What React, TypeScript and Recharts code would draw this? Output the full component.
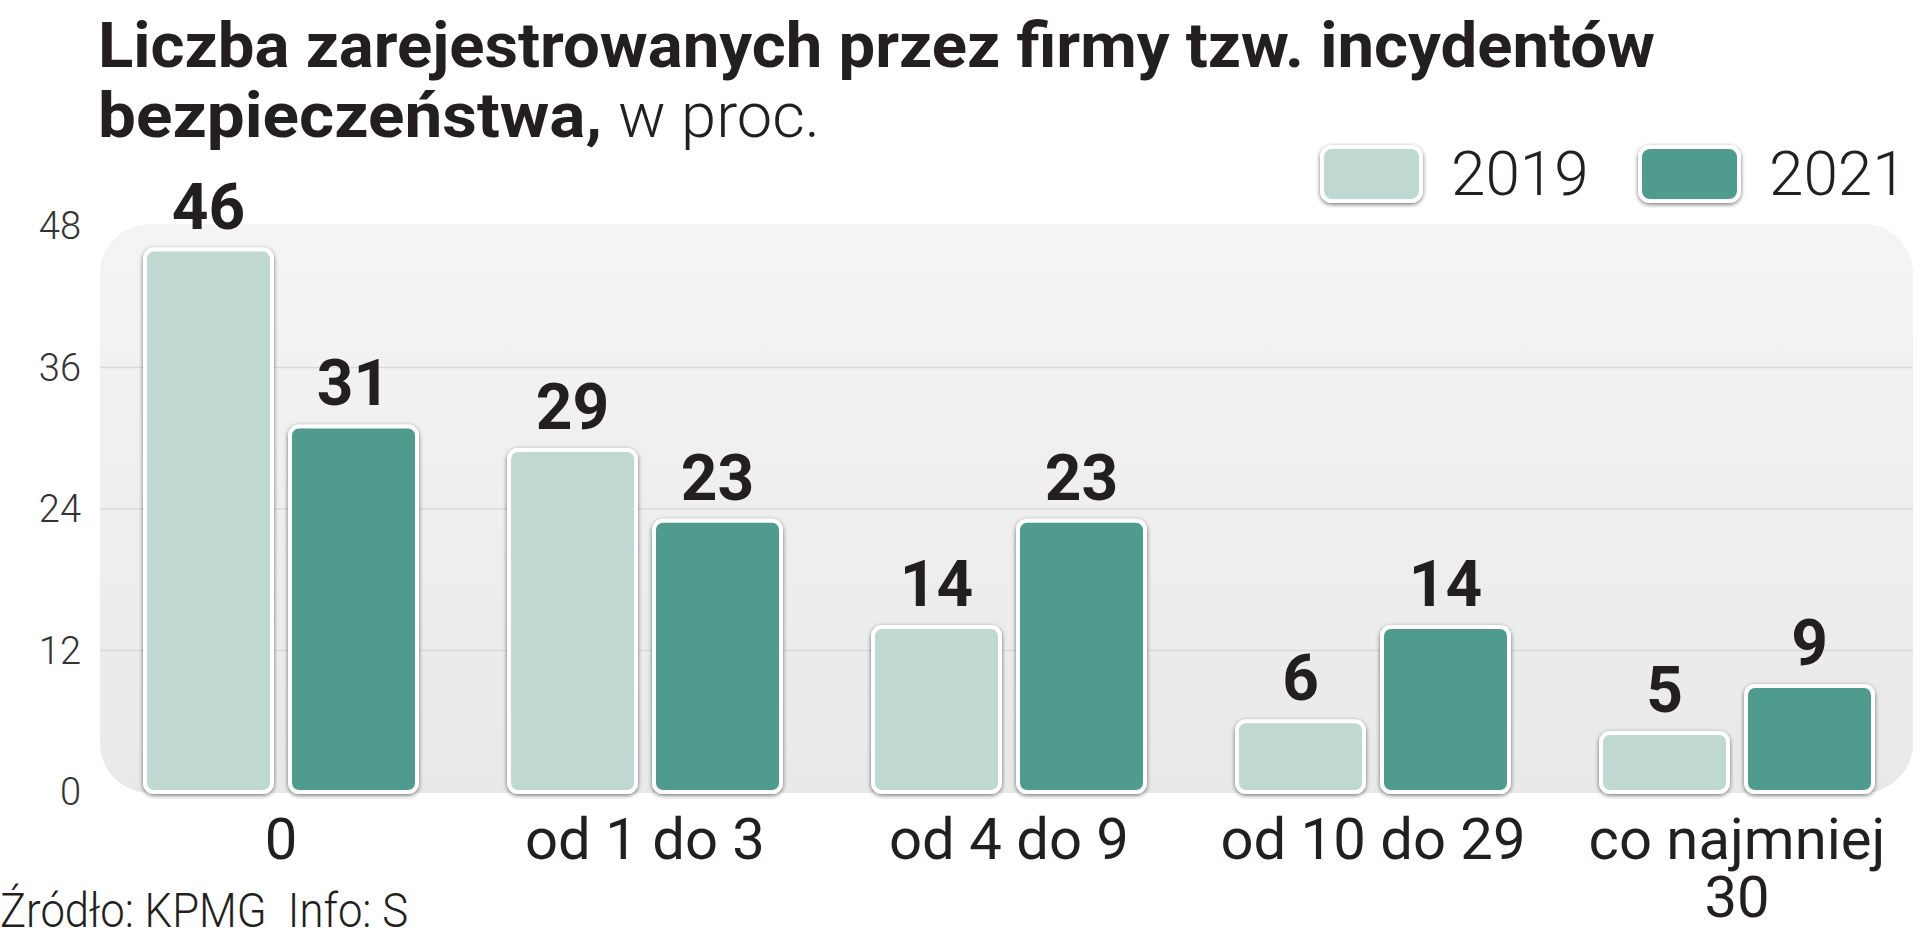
import React from 'react';
import { BarChart, Bar, XAxis, YAxis, CartesianGrid, LabelList } from 'recharts';

// categories (second line used for the last label)
const categoryLines: string[][] = [['0'], ['od 1 do 3'], ['od 4 do 9'], ['od 10 do 29'], ['co najmniej', '30']];
const categories = categoryLines.map((l) => l.join(' '));
const values2019 = [46, 29, 14, 6, 5];
const values2021 = [31, 23, 23, 14, 9];
const seriesNames = ['2019', '2021'];
const seriesColors = ['#bfd8d2', '#4f9b8e'];
const yTicks = [0, 12, 24, 36, 48];
const gridValues = [12, 24, 36];

const W = 1920;
const H = 941;
const PLOT_LEFT = 99;
const PLOT_RIGHT = 1919;
const PLOT_TOP = 226;
const PLOT_BOTTOM = 792;
const Y_AXIS_W = 80;
const X_AXIS_H = 100;

const INK = '#231f20';

const data = categories.map((name, i) => ({
    name,
    v2019: values2019[i],
    v2021: values2021[i],
}));

const BarShape = (props: any) => {
    const { x, y, width, height, fill } = props;
    if (!height || height <= 0) return null;
    return (
        <rect
            x={x}
            y={y}
            width={width}
            height={height}
            rx={9}
            ry={9}
            fill={fill}
            stroke="#fff"
            strokeWidth={4}
            filter="url(#barShadow)"
        />
    );
};

const XTick = (props: any) => {
    const { x, y, payload } = props;
    const lines = categoryLines[payload.index] || [payload.value];
    return (
        <text x={x} y={y} textAnchor="middle" fontFamily="Roboto" fontSize={58} fill={INK}>
            {lines.map((l: string, i: number) => (
                <tspan key={i} x={x} dy={i === 0 ? 67 : 58}>{l}</tspan>
            ))}
        </text>
    );
};

const App = () => {
    return (
        <div style={{ position: 'absolute', left: 0, top: 0, width: W, height: H, background: '#fff' }}>
            {/* background panel + shared filters */}
            <svg width={W} height={H} style={{ position: 'absolute', left: 0, top: 0 }}>
                <defs>
                    <linearGradient id="panelGrad" x1="0" y1="0" x2="0" y2="1">
                        <stop offset="0%" stopColor="#f4f4f4" />
                        <stop offset="100%" stopColor="#e9e9e9" />
                    </linearGradient>
                    <clipPath id="panelClip">
                        <rect x={PLOT_LEFT + 1} y={PLOT_TOP - 2} width={PLOT_RIGHT - PLOT_LEFT - 7} height={PLOT_BOTTOM - PLOT_TOP + 3} rx={50} ry={50} />
                    </clipPath>
                    <filter id="barShadow" x="-20%" y="-20%" width="140%" height="140%">
                        <feDropShadow dx="0" dy="1.5" stdDeviation="2.2" floodColor="#000" floodOpacity="0.55" />
                    </filter>
                </defs>
                <rect
                    x={PLOT_LEFT + 1}
                    y={PLOT_TOP - 2}
                    width={PLOT_RIGHT - PLOT_LEFT - 7}
                    height={PLOT_BOTTOM - PLOT_TOP + 3}
                    rx={50}
                    ry={50}
                    fill="url(#panelGrad)"
                />
            </svg>

            <div style={{ position: 'absolute', left: 0, top: 0 }}>
                <BarChart
                    width={W}
                    height={H}
                    data={data}
                    margin={{
                        top: PLOT_TOP,
                        right: W - PLOT_RIGHT,
                        left: PLOT_LEFT - Y_AXIS_W,
                        bottom: H - PLOT_BOTTOM - X_AXIS_H,
                    }}
                    barCategoryGap={46}
                    barGap={18}
                >
                    <CartesianGrid
                        vertical={false}
                        stroke="#dadada"
                        strokeWidth={1.5}
                        horizontalValues={gridValues}
                        clipPath="url(#panelClip)"
                    />
                    <XAxis
                        dataKey="name"
                        height={X_AXIS_H}
                        axisLine={false}
                        tickLine={false}
                        tickSize={0}
                        tickMargin={0}
                        interval={0}
                        tick={<XTick />}
                    />
                    <YAxis
                        width={Y_AXIS_W}
                        domain={[0, 48]}
                        ticks={yTicks}
                        axisLine={false}
                        tickLine={false}
                        tickSize={0}
                        tickMargin={18}
                        tick={{ fontFamily: 'Roboto', fontWeight: 300, fontSize: 38, fill: '#333' }}
                    />
                    <Bar dataKey="v2019" name={seriesNames[0]} fill={seriesColors[0]} shape={<BarShape />} isAnimationActive={false}>
                        <LabelList dataKey="v2019" position="top" offset={21} fill={INK} fontFamily="Roboto" fontWeight={700} fontSize={64} />
                    </Bar>
                    <Bar dataKey="v2021" name={seriesNames[1]} fill={seriesColors[1]} shape={<BarShape />} isAnimationActive={false}>
                        <LabelList dataKey="v2021" position="top" offset={21} fill={INK} fontFamily="Roboto" fontWeight={700} fontSize={64} />
                    </Bar>
                </BarChart>
            </div>

            {/* title, legend, source */}
            <svg width={W} height={H} style={{ position: 'absolute', left: 0, top: 0, pointerEvents: 'none' }}>
                <text x={98} y={67} fontFamily="Roboto" fontWeight={700} fontSize={63} fill={INK} textLength={1557} lengthAdjust="spacingAndGlyphs">
                    Liczba zarejestrowanych przez firmy tzw. incydentów
                </text>
                <text x={98} y={137} fontFamily="Roboto" fontWeight={700} fontSize={63} fill={INK} textLength={504} lengthAdjust="spacingAndGlyphs">
                    bezpieczeństwa,
                </text>
                <text x={618} y={137} fontFamily="Roboto" fontWeight={300} fontSize={63} fill={INK} textLength={202} lengthAdjust="spacingAndGlyphs">
                    w proc.
                </text>

                {seriesNames.map((s, i) => {
                    const sx = 1322 + i * 318;
                    return (
                        <g key={s}>
                            <rect x={sx} y={147} width={99} height={54} rx={10} ry={10} fill={seriesColors[i]} stroke="#fff" strokeWidth={4} filter="url(#barShadow)" />
                            <text x={sx + 129} y={195} fontFamily="Roboto" fontWeight={300} fontSize={62} fill={INK}>{s}</text>
                        </g>
                    );
                })}

                <text x={0} y={927} fontFamily="Roboto" fontWeight={300} fontSize={48} fill={INK} textLength={408} lengthAdjust="spacingAndGlyphs" style={{ whiteSpace: 'pre' }}>
                    {'Źródło: KPMG  Info: S'}
                </text>
            </svg>
        </div>
    );
};

export default App;
